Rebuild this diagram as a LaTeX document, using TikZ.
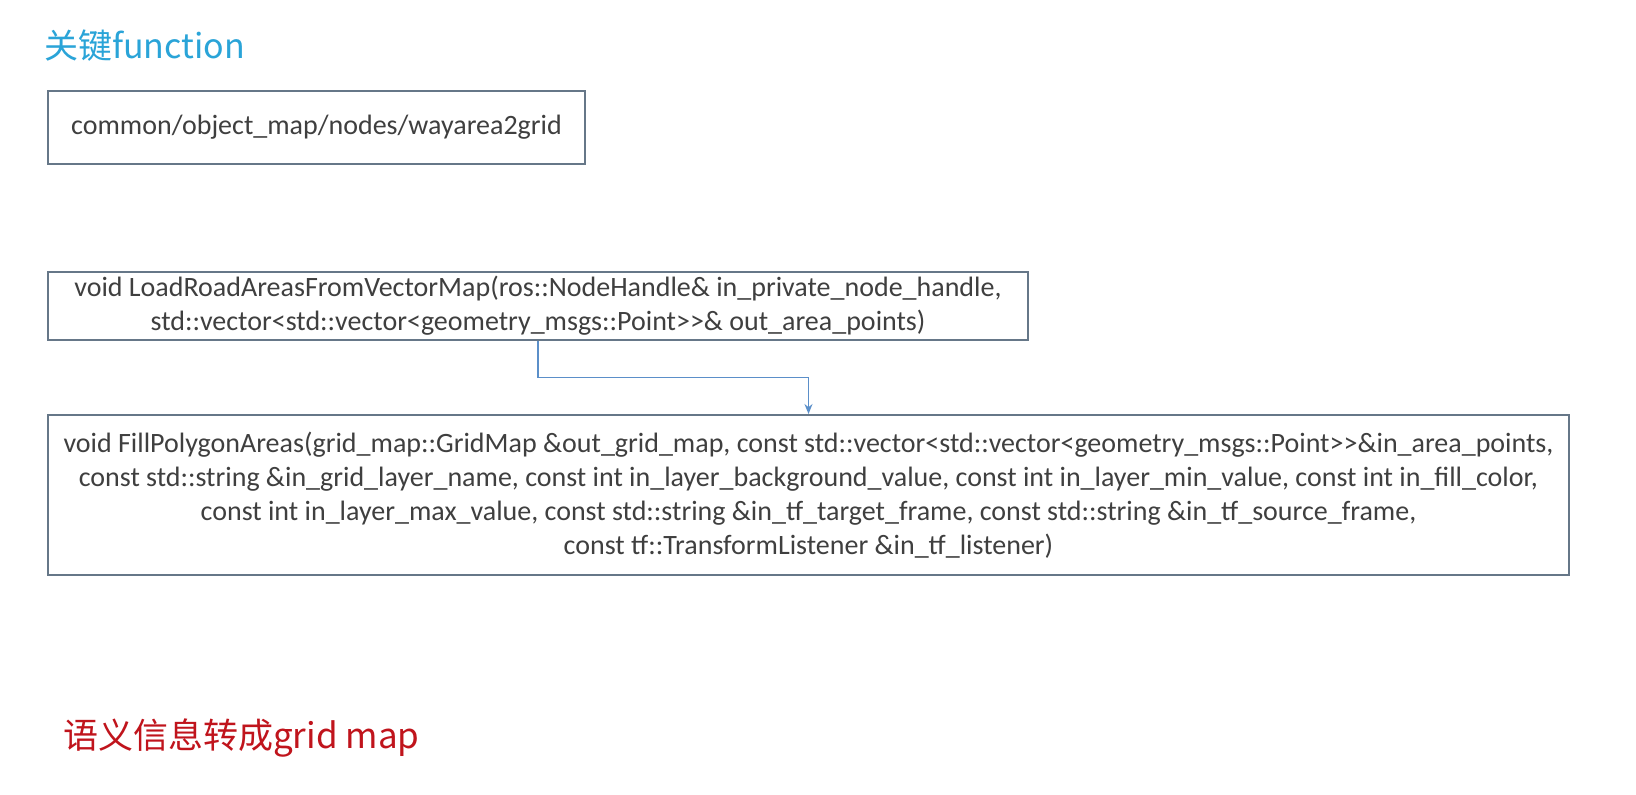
\documentclass[tikz,border=0pt]{standalone}
\usepackage{fontspec}
\setmainfont{Carlito}
\newfontfamily\cjk{Noto Sans CJK SC}
\usetikzlibrary{arrows.meta,calc}
\definecolor{titleblue}{HTML}{2AA4D8}
\definecolor{boxline}{HTML}{667788}
\definecolor{txtgray}{HTML}{3F3F3F}
\definecolor{arrowblue}{HTML}{5B8FC9}
\definecolor{darkred}{HTML}{C0141C}
\tikzset{
  funcbox/.style={draw=boxline, line width=2pt, inner sep=0pt, align=center,
    text=txtgray, font=\fontsize{28}{34}\selectfont},
  conn/.style={draw=arrowblue, line width=1.3pt, -{Stealth[length=10pt,width=8pt]}},
}
\begin{document}
\begin{tikzpicture}[x=1pt,y=-1pt]
\useasboundingbox[fill=white] (0,0) rectangle (1636,795);
\node[anchor=west, text=titleblue, font=\cjk\fontsize{34}{40}\selectfont, inner sep=0pt] (title) at (44,46) {关键function};
\node[funcbox, minimum width=537pt, minimum height=73pt] (b1) at (316.5,127.5) {common/object\_map/nodes/wayarea2grid};
\node[funcbox, minimum width=980pt, minimum height=68pt] (b2) at (538,306) {void LoadRoadAreasFromVectorMap(ros::NodeHandle\& in\_private\_node\_handle,\\ std::vector<std::vector<geometry\_msgs::Point>{}>\& out\_area\_points)};
\node[funcbox, minimum width=1521pt, minimum height=160pt] (b3) at (808.5,495) {void FillPolygonAreas(grid\_map::GridMap \&out\_grid\_map, const std::vector<std::vector<geometry\_msgs::Point>{}>\&in\_area\_points,\\ const std::string \&in\_grid\_layer\_name, const int in\_layer\_background\_value, const int in\_layer\_min\_value, const int in\_fill\_color,\\ const int in\_layer\_max\_value, const std::string \&in\_tf\_target\_frame, const std::string \&in\_tf\_source\_frame,\\ const tf::TransformListener \&in\_tf\_listener)};
\coordinate (mid) at ($(b2.south)!0.5!(b3.north)$);
\draw[conn] (b2.south) |- (mid) -| (b3.north);
\node[anchor=west, text=darkred, font=\cjk\fontsize{35}{42}\selectfont, inner sep=0pt] (note) at (63,738) {语义信息转成grid map};
\end{tikzpicture}
\end{document}
